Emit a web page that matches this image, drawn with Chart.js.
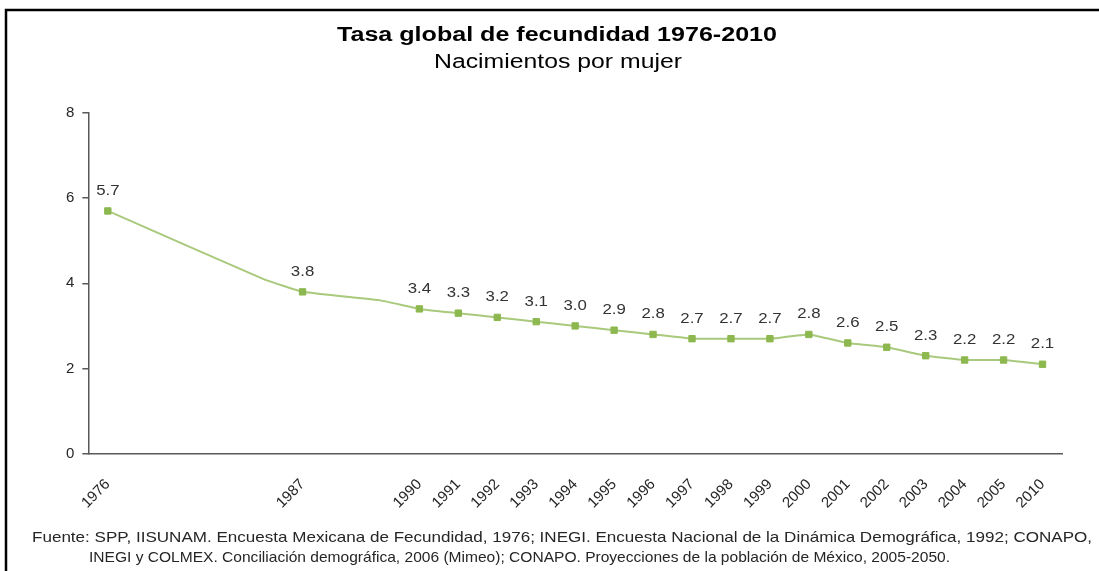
<!DOCTYPE html>
<html>
<head>
<meta charset="utf-8">
<script src="https://cdn.jsdelivr.net/npm/chart.js@4.4.1/dist/chart.umd.min.js"></script>
<style>
    html, body { margin: 0; padding: 0; background: #fff; }
    canvas { display: block; }
</style>
</head>
<body>
<canvas id="fecundidadChart" width="1099" height="571"></canvas>
<script>
// categorias del eje: las vacias son puntos intermedios sin marcador ni etiqueta
const anios = ['1976', '', '', '', '', '1987', '', '', '1990', '1991', '1992', '1993', '1994', '1995',
    '1996', '1997', '1998', '1999', '2000', '2001', '2002', '2003', '2004', '2005', '2010'];
const tasa = [5.7, null, null, null, 4.1, 3.8, null, 3.6, 3.4, 3.3, 3.2, 3.1, 3.0, 2.9,
    2.8, 2.7, 2.7, 2.7, 2.8, 2.6, 2.5, 2.3, 2.2, 2.2, 2.1];
const ticksY = [0, 2, 4, 6, 8];

const titulo = 'Tasa global de fecundidad 1976-2010';
const subtitulo = 'Nacimientos por mujer';
const fuente = [
    'Fuente: SPP, IISUNAM. Encuesta Mexicana de Fecundidad, 1976; INEGI. Encuesta Nacional de la Dinámica Demográfica, 1992; CONAPO,',
    'INEGI y COLMEX. Conciliación demográfica, 2006 (Mimeo); CONAPO. Proyecciones de la población de México, 2005-2050.'
];

const FAMILIA = "'Liberation Sans', Arial, sans-serif";

function textoAjustado(ctx, texto, x, y, ancho, align) {
    const w = ctx.measureText(texto).width;
    ctx.save();
    ctx.translate(x, y);
    ctx.scale(ancho / w, 1);
    ctx.textAlign = align;
    ctx.textBaseline = 'alphabetic';
    ctx.fillText(texto, 0, 0);
    ctx.restore();
}

const marcoYTextos = {
    id: 'marcoYTextos',
    beforeDraw(chart) {
        const ctx = chart.ctx;
        ctx.save();
        ctx.fillStyle = '#fff';
        ctx.fillRect(0, 0, chart.width, chart.height);
        ctx.strokeStyle = '#000';
        ctx.lineWidth = 2.5;
        ctx.beginPath();
        ctx.moveTo(6, chart.height + 5);
        ctx.lineTo(6, 10);
        ctx.lineTo(chart.width + 5, 10);
        ctx.stroke();

        ctx.fillStyle = '#000';
        ctx.font = 'bold 20px ' + FAMILIA;
        textoAjustado(ctx, titulo, 557, 41, 440, 'center');
        ctx.font = '20px ' + FAMILIA;
        textoAjustado(ctx, subtitulo, 558, 68, 248, 'center');

        ctx.fillStyle = '#262626';
        ctx.font = '15px ' + FAMILIA;
        textoAjustado(ctx, fuente[0], 32, 542, 1060, 'left');
        textoAjustado(ctx, fuente[1], 89, 562, 861, 'left');
        ctx.restore();
    }
};

const etiquetasDatos = {
    id: 'etiquetasDatos',
    afterDatasetsDraw(chart) {
        const ctx = chart.ctx;
        const meta = chart.getDatasetMeta(0);
        ctx.save();
        ctx.fillStyle = '#333';
        ctx.font = '15px ' + FAMILIA;
        meta.data.forEach((punto, i) => {
            if (!anios[i] || tasa[i] === null) return;
            const texto = tasa[i].toFixed(1);
            const w = ctx.measureText(texto).width;
            textoAjustado(ctx, texto, punto.x, punto.y - 16, w * 1.12, 'center');
        });
        ctx.restore();
    }
};

new Chart(document.getElementById('fecundidadChart'), {
    type: 'line',
    data: {
        labels: anios,
        datasets: [{
            data: tasa,
            borderColor: '#A9C97C',
            borderWidth: 2,
            tension: 0.1,
            spanGaps: true,
            pointStyle: 'rect',
            pointRadius: ctx => anios[ctx.dataIndex] ? 4.5 : 0,
            pointHoverRadius: ctx => anios[ctx.dataIndex] ? 4.5 : 0,
            pointBackgroundColor: '#8DB84F',
            pointBorderColor: '#8DB84F',
            pointBorderWidth: 1
        }]
    },
    options: {
        responsive: false,
        animation: false,
        layout: {
            padding: { top: 113, left: 58, right: 37, bottom: 45 }
        },
        plugins: {
            legend: { display: false },
            tooltip: { enabled: false }
        },
        scales: {
            x: {
                offset: true,
                grid: { display: false },
                border: { color: '#595959', width: 1.5 },
                ticks: {
                    autoSkip: false,
                    minRotation: 45,
                    maxRotation: 45,
                    padding: 14,
                    color: '#262626',
                    font: { family: FAMILIA, size: 15 }
                }
            },
            y: {
                min: 0,
                max: 8,
                afterBuildTicks: axis => {
                    axis.ticks = ticksY.map(v => ({ value: v }));
                },
                grid: {
                    drawOnChartArea: false,
                    drawTicks: true,
                    tickLength: 6,
                    color: '#595959',
                    lineWidth: 1.5
                },
                border: { color: '#595959', width: 1.5 },
                ticks: {
                    padding: 8,
                    color: '#262626',
                    font: { family: FAMILIA, size: 15 }
                }
            }
        }
    },
    plugins: [marcoYTextos, etiquetasDatos]
});
</script>
</body>
</html>
